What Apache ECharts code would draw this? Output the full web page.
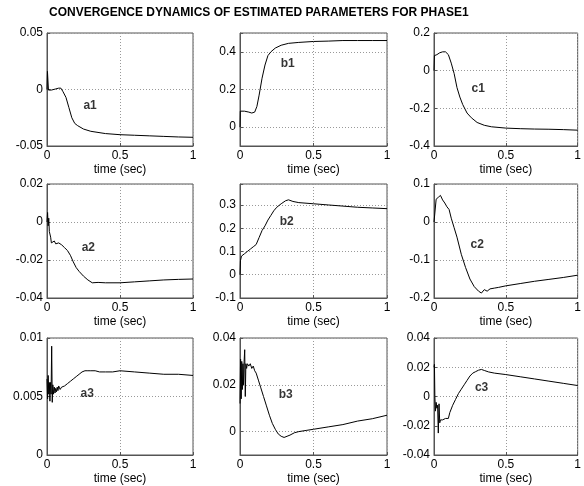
<!DOCTYPE html>
<html>
<head>
<meta charset="utf-8">
<script src="https://cdn.jsdelivr.net/npm/echarts@6/dist/echarts.min.js"></script>
<style>html,body{margin:0;padding:0;background:#fff;}#c{width:584px;height:486px;}</style>
</head>
<body>
<div id="c"></div>
<script>
// ---- data ----
const title = "CONVERGENCE DYNAMICS OF ESTIMATED PARAMETERS FOR PHASE1";
const xLabel = "time (sec)";
const names = ["a1","b1","c1","a2","b2","c2","a3","b3","c3"];

const t_a1 = [0,0.003,0.006,0.01,0.03,0.06,0.08,0.095,0.11,0.13,0.15,0.17,0.19,0.21,0.25,0.3,0.4,0.5,0.6,0.7,0.8,0.9,1.0];
const a1   = [0,0.016,0.016,-0.0005,-0.0005,0.0005,0.0012,0.0012,-0.002,-0.007,-0.016,-0.025,-0.030,-0.032,-0.035,-0.037,-0.039,-0.040,-0.0405,-0.041,-0.0415,-0.042,-0.0423];

const t_b1 = [0,0.002,0.03,0.06,0.08,0.1,0.115,0.13,0.15,0.17,0.19,0.21,0.24,0.28,0.33,0.4,0.5,0.6,0.7,0.8,0.9,1.0];
const b1   = [0,0.085,0.085,0.08,0.075,0.08,0.11,0.17,0.26,0.33,0.38,0.40,0.42,0.435,0.445,0.45,0.455,0.457,0.46,0.46,0.46,0.46];

const t_c1 = [0,0.003,0.02,0.04,0.06,0.08,0.1,0.12,0.14,0.16,0.18,0.2,0.23,0.26,0.3,0.35,0.4,0.5,0.6,0.7,0.8,0.9,1.0];
const c1   = [0,0.08,0.085,0.095,0.1,0.1,0.085,0.04,-0.015,-0.09,-0.14,-0.18,-0.225,-0.25,-0.275,-0.29,-0.298,-0.305,-0.308,-0.31,-0.311,-0.313,-0.316];

const t_a2 = [0,0.004,0.008,0.012,0.016,0.02,0.025,0.03,0.04,0.05,0.06,0.08,0.1,0.12,0.14,0.16,0.18,0.2,0.22,0.25,0.28,0.31,0.35,0.4,0.5,0.6,0.7,0.8,0.9,1.0];
const a2   = [0,0.005,-0.002,0.002,-0.005,-0.004,-0.008,-0.011,-0.012,-0.010,-0.0115,-0.011,-0.012,-0.0135,-0.015,-0.0175,-0.021,-0.024,-0.026,-0.0285,-0.0305,-0.032,-0.0318,-0.032,-0.032,-0.0315,-0.031,-0.0305,-0.0302,-0.030];

const t_b2 = [0,0.003,0.01,0.03,0.05,0.07,0.09,0.11,0.13,0.15,0.17,0.19,0.21,0.23,0.25,0.28,0.31,0.33,0.36,0.4,0.5,0.6,0.7,0.8,0.9,1.0];
const b2   = [0,0.06,0.08,0.09,0.1,0.11,0.12,0.13,0.16,0.19,0.21,0.235,0.255,0.275,0.29,0.305,0.318,0.322,0.315,0.31,0.305,0.3,0.295,0.29,0.287,0.284];

const t_c2 = [0,0.005,0.015,0.03,0.045,0.06,0.075,0.09,0.105,0.12,0.14,0.16,0.19,0.22,0.25,0.28,0.31,0.33,0.35,0.37,0.39,0.42,0.45,0.5,0.6,0.7,0.8,0.9,1.0];
const c2   = [0,0.005,0.06,0.065,0.07,0.058,0.05,0.04,0.033,0.01,-0.015,-0.04,-0.085,-0.12,-0.15,-0.17,-0.182,-0.187,-0.178,-0.182,-0.176,-0.174,-0.172,-0.168,-0.162,-0.156,-0.151,-0.146,-0.14];

const t_a3 = [0,0.004,0.008,0.012,0.016,0.02,0.024,0.028,0.032,0.036,0.04,0.045,0.05,0.055,0.06,0.065,0.07,0.075,0.08,0.09,0.1,0.11,0.12,0.14,0.16,0.18,0.2,0.22,0.24,0.26,0.28,0.3,0.33,0.36,0.4,0.45,0.5,0.6,0.7,0.8,0.9,1.0];
const a3   = [0.0065,0.0048,0.0068,0.0052,0.0062,0.0046,0.0062,0.0052,0.0093,0.0045,0.006,0.0052,0.0058,0.0053,0.0057,0.0054,0.0058,0.0055,0.0059,0.0056,0.0058,0.0058,0.0059,0.0061,0.0063,0.0065,0.0067,0.0069,0.0071,0.0072,0.0072,0.0072,0.0072,0.0071,0.0071,0.0071,0.0072,0.0071,0.007,0.0069,0.0069,0.0068];

const t_b3 = [0,0.004,0.008,0.012,0.016,0.02,0.024,0.028,0.032,0.036,0.04,0.045,0.05,0.06,0.07,0.08,0.09,0.1,0.11,0.125,0.14,0.16,0.18,0.2,0.22,0.24,0.26,0.28,0.3,0.31,0.32,0.34,0.37,0.4,0.45,0.5,0.6,0.7,0.8,0.9,1.0];
const b3   = [0.012,0.031,0.014,0.03,0.018,0.029,0.02,0.03,0.035,0.015,0.029,0.027,0.029,0.028,0.029,0.027,0.028,0.026,0.025,0.022,0.019,0.015,0.011,0.007,0.0035,0.001,-0.001,-0.002,-0.0025,-0.003,-0.002,-0.0015,-0.0005,0,0.0005,0.001,0.002,0.003,0.0045,0.0055,0.007];

const t_c3 = [0,0.003,0.006,0.01,0.015,0.02,0.025,0.03,0.035,0.04,0.045,0.05,0.06,0.07,0.08,0.09,0.1,0.11,0.13,0.15,0.17,0.19,0.21,0.23,0.25,0.27,0.29,0.31,0.33,0.35,0.38,0.42,0.5,0.6,0.7,0.8,0.9,1.0];
const c3   = [0.02,0.022,0.0,-0.01,-0.004,-0.008,-0.006,-0.025,-0.005,-0.018,-0.016,-0.017,-0.016,-0.017,-0.015,-0.016,-0.015,-0.011,-0.006,-0.002,0.002,0.005,0.008,0.011,0.014,0.016,0.017,0.018,0.0185,0.0178,0.0168,0.016,0.015,0.0135,0.012,0.0105,0.009,0.0075];

// y-axis ranges and tick steps
const yMin  = [-0.05,-0.1,-0.4,-0.04,-0.1,-0.2,0,-0.01,-0.04];
const yMax  = [0.05,0.5,0.2,0.02,0.39,0.1,0.01,0.04,0.04];
const yStep = [0.05,0.2,0.2,0.02,0.1,0.1,0.005,0.02,0.02];
const xTicks = [0,0.5,1];

// label anchor points (data coords)
const labelT = [0.295,0.324,0.308,0.283,0.318,0.301,0.276,0.311,0.331];
const labelY = [-0.0146,0.335,-0.094,-0.0135,0.23,-0.059,0.0052,0.0156,0.0062];

const times = [t_a1,t_b1,t_c1,t_a2,t_b2,t_c2,t_a3,t_b3,t_c3];
const vals  = [a1,b1,c1,a2,b2,c2,a3,b3,c3];

// ---- layout ----
const colLeft = [47,240,434], colW = [146,147,144];
const rowTop = [33,184,338], rowH = [113,114,117];
const FONT = "Liberation Sans, Arial, sans-serif";

function fmt(v){ return parseFloat(v.toFixed(6)).toString(); }

const grid=[],xAxis=[],yAxis=[],series=[];
for (let i=0;i<9;i++){
  const r=Math.floor(i/3), c=i%3;
  grid.push({left:colLeft[c],top:rowTop[r],width:colW[c],height:rowH[r],show:true,borderColor:'#555',borderWidth:1,backgroundColor:'#fff'});
  xAxis.push({gridIndex:i,type:'value',min:xTicks[0],max:xTicks[xTicks.length-1],interval:xTicks[1]-xTicks[0],
    name:xLabel,nameLocation:'middle',nameGap:18,nameTextStyle:{fontFamily:FONT,fontSize:12,color:'#000'},
    axisLine:{show:true,onZero:false,lineStyle:{color:'#555'}},
    axisTick:{show:true,inside:true,length:3,lineStyle:{color:'#555'}},
    axisLabel:{fontFamily:FONT,fontSize:12,color:'#000',margin:4,formatter:fmt},
    splitLine:{show:true,lineStyle:{type:[1,2],color:'#999'}}});
  const st=yStep[i];
  yAxis.push({gridIndex:i,type:'value',min:yMin[i],max:yMax[i],splitNumber:3,minInterval:st,maxInterval:st,
    axisLine:{show:true,onZero:false,lineStyle:{color:'#555'}},
    axisTick:{show:true,inside:true,length:3,lineStyle:{color:'#555'}},
    axisLabel:{fontFamily:FONT,fontSize:12,color:'#000',margin:4,showMinLabel:true,showMaxLabel:true,
      formatter:function(v){ const q=v/st; if(Math.abs(q-Math.round(q))>1e-6) return ''; return fmt(v);} },
    splitLine:{show:true,lineStyle:{type:[1,2],color:'#999'}}});
  series.push({type:'line',xAxisIndex:i,yAxisIndex:i,showSymbol:false,symbol:'none',
    lineStyle:{color:'#000',width:1},data:times[i].map((t,k)=>[t,vals[i][k]]),z:3});
  series.push({type:'scatter',xAxisIndex:i,yAxisIndex:i,symbolSize:0,silent:true,
    data:[[labelT[i],labelY[i]]],
    label:{show:true,position:'inside',formatter:names[i],fontFamily:FONT,fontSize:12,fontWeight:'bold',color:'#000'},z:4});
}

const chart = echarts.init(document.getElementById('c'),null,{renderer:'canvas'});
chart.setOption({
  animation:false,
  backgroundColor:'#fff',
  graphic:[{type:'text',x:49,y:7,style:{text:title,fontFamily:FONT,fontSize:12,fontWeight:'bold',fill:'#000'}}],
  grid,xAxis,yAxis,series
});
</script>
</body>
</html>
